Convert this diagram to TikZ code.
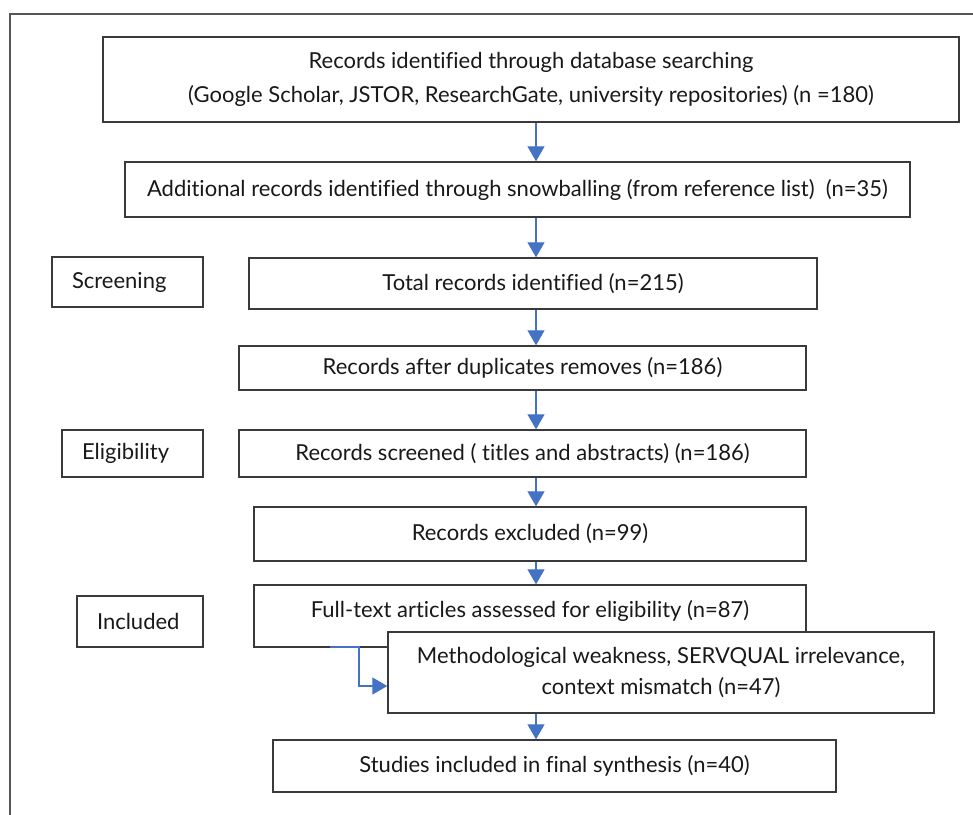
\documentclass[tikz,border=0pt]{standalone}
\usepackage{fontspec}
\setmainfont{Lato}[Ligatures=CommonOff]
\usetikzlibrary{arrows.meta}

\definecolor{flowblue}{HTML}{4472C4}
\definecolor{boxgray}{HTML}{3A3A3A}
\definecolor{framegray}{HTML}{555555}

\tikzset{
  box/.style={draw=boxgray, line width=1.4pt, fill=white, inner sep=0pt,
    align=center, text=black!90, font=\fontsize{22}{26}\selectfont},
  phase/.style={box, inner xsep=20pt, align=left},
  flow/.style={draw=flowblue, line width=1.3pt, -{Triangle[width=17pt,length=15pt]}},
}

\begin{document}
\begin{tikzpicture}[x=1pt,y=-1pt]
\useasboundingbox (0,0) rectangle (973,814);
\draw[framegray, line width=1.8pt] (10,830) -- (10,14) -- (990,14);

% main column
\node[box, minimum width=856pt, minimum height=85pt, font=\fontsize{22}{34}\selectfont] (rec) at (531,79.5)
  {Records identified through database searching\\(Google Scholar, JSTOR, ResearchGate, university repositories) (n =180)};
\node[box, minimum width=785pt, minimum height=55pt] (add) at (517.5,189.5)
  {Additional records identified through snowballing (from reference list)\ \ (n=35)};
\node[box, minimum width=568pt, minimum height=51pt] (total) at (533,283.5) {Total records identified (n=215)};
\node[box, minimum width=567pt, minimum height=44pt] (dup) at (522.5,368) {Records after duplicates removes (n=186)};
\node[box, minimum width=567pt, minimum height=47pt] (scr) at (522.5,453.5) {Records screened ( titles and abstracts) (n=186)};
\node[box, minimum width=552pt, minimum height=54pt] (excl) at (530,534) {Records excluded (n=99)};
\node[box, minimum width=552pt, minimum height=62pt, text depth=14pt] (full) at (530,616)
  {Full-text articles assessed for eligibility (n=87)};
\node[box, minimum width=546pt, minimum height=81pt, font=\fontsize{22}{31}\selectfont] (meth) at (661,672.5)
  {Methodological weakness, SERVQUAL irrelevance,\\context mismatch (n=47)};
\node[box, minimum width=563pt, minimum height=52pt] (stud) at (554.5,766) {Studies included in final synthesis (n=40)};

% phase labels
\node[phase, text width=111pt, minimum height=50pt] (screening) at (127.5,282) {Screening};
\node[phase, text width=101pt, minimum height=47pt] (eligibility) at (132.5,453.5) {Eligibility};
\node[phase, text width=86pt, minimum height=51pt] (included) at (140,621.5) {Included};

% connectors
\coordinate (ax) at (536,0);
\coordinate (split) at (330,647);
\draw[flow] (rec.south -| ax) -- (add.north -| ax);
\draw[flow] (add.south -| ax) -- (total.north -| ax);
\draw[flow] (total.south -| ax) -- (dup.north -| ax);
\draw[flow] (dup.south -| ax) -- (scr.north -| ax);
\draw[flow] (scr.south -| ax) -- (excl.north -| ax);
\draw[flow] (excl.south -| ax) -- (full.north -| ax);
\draw[flow] (meth.south -| ax) -- (stud.north -| ax);
\draw[flow] (split) -- ++(29,0) |- ([yshift=-13.5pt]meth.west);
\end{tikzpicture}
\end{document}
